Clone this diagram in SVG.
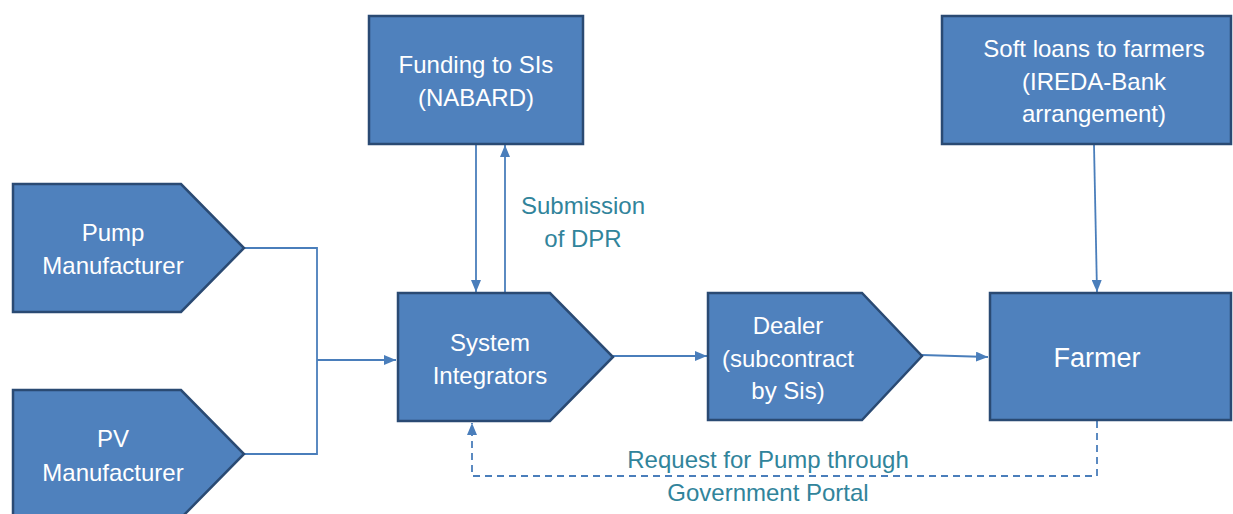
<svg xmlns="http://www.w3.org/2000/svg" width="1233" height="514" viewBox="0 0 1233 514">
  <defs>
    <marker id="arrow" viewBox="0 0 12 10" refX="12" refY="5" markerWidth="12" markerHeight="10" markerUnits="userSpaceOnUse" orient="auto">
      <path d="M0,0 L12,5 L0,10 Z" fill="#4A7EBB"/>
    </marker>
    <style>
      .node { fill: #4F81BD; stroke: #2A4A73; stroke-width: 2.5; }
      .ntext { font-family: "Liberation Sans", Arial, sans-serif; font-size: 24px; fill: #FFFFFF; text-anchor: middle; }
      .conn { fill: none; stroke: #4A7EBB; stroke-width: 1.8; }
      .dash { stroke-dasharray: 7 5; }
      .ltext { font-family: "Liberation Sans", Arial, sans-serif; font-size: 24px; fill: #31849B; text-anchor: middle; }
    </style>
  </defs>

  <rect width="1233" height="514" fill="#FFFFFF"/>

  <!-- connectors -->
  <g id="connectors">
    <polyline class="conn" points="244,248 317,248 317,454 244,454"/>
    <line class="conn" x1="317" y1="360" x2="396" y2="360" marker-end="url(#arrow)"/>
    <line class="conn" x1="476" y1="145" x2="476" y2="292" marker-end="url(#arrow)"/>
    <line class="conn" x1="505" y1="292" x2="505" y2="145" marker-end="url(#arrow)"/>
    <line class="conn" x1="613" y1="356" x2="707" y2="356" marker-end="url(#arrow)"/>
    <line class="conn" x1="922" y1="355" x2="988" y2="357" marker-end="url(#arrow)"/>
    <line class="conn" x1="1094" y1="145" x2="1097" y2="292" marker-end="url(#arrow)"/>
    <polyline class="conn dash" points="1097,421 1097,476 472,476 472,423" marker-end="url(#arrow)"/>
    <text class="ltext" x="583" y="214">Submission</text>
    <text class="ltext" x="583" y="247">of DPR</text>
    <text class="ltext" x="768" y="468">Request for Pump through</text>
    <text class="ltext" x="768" y="501">Government Portal</text>
  </g>

  <g id="pump-manufacturer">
    <path class="node" d="M13,184 L181,184 L244,248 L181,312 L13,312 Z"/>
    <text class="ntext" x="113" y="241">Pump</text>
    <text class="ntext" x="113" y="274">Manufacturer</text>
  </g>

  <g id="pv-manufacturer">
    <path class="node" d="M13,390 L181,390 L244,454 L181,518 L13,518 Z"/>
    <text class="ntext" x="113" y="447">PV</text>
    <text class="ntext" x="113" y="481">Manufacturer</text>
  </g>

  <g id="funding-nabard">
    <rect class="node" x="369" y="16" width="214" height="128"/>
    <text class="ntext" x="476" y="73">Funding to SIs</text>
    <text class="ntext" x="476" y="106">(NABARD)</text>
  </g>

  <g id="system-integrators">
    <path class="node" d="M398,293 L550,293 L613,357 L550,421 L398,421 Z"/>
    <text class="ntext" x="490" y="351">System</text>
    <text class="ntext" x="490" y="384">Integrators</text>
  </g>

  <g id="dealer">
    <path class="node" d="M708,293 L862,293 L922,356 L862,420 L708,420 Z"/>
    <text class="ntext" x="788" y="334">Dealer</text>
    <text class="ntext" x="788" y="367">(subcontract</text>
    <text class="ntext" x="788" y="399">by Sis)</text>
  </g>

  <g id="farmer">
    <rect class="node" x="990" y="293" width="241" height="127"/>
    <text class="ntext" x="1097" y="367" style="font-size:27px">Farmer</text>
  </g>

  <g id="soft-loans">
    <rect class="node" x="942" y="16" width="289" height="128"/>
    <text class="ntext" x="1094" y="57">Soft loans to farmers</text>
    <text class="ntext" x="1094" y="90">(IREDA-Bank</text>
    <text class="ntext" x="1094" y="122">arrangement)</text>
  </g>
</svg>
